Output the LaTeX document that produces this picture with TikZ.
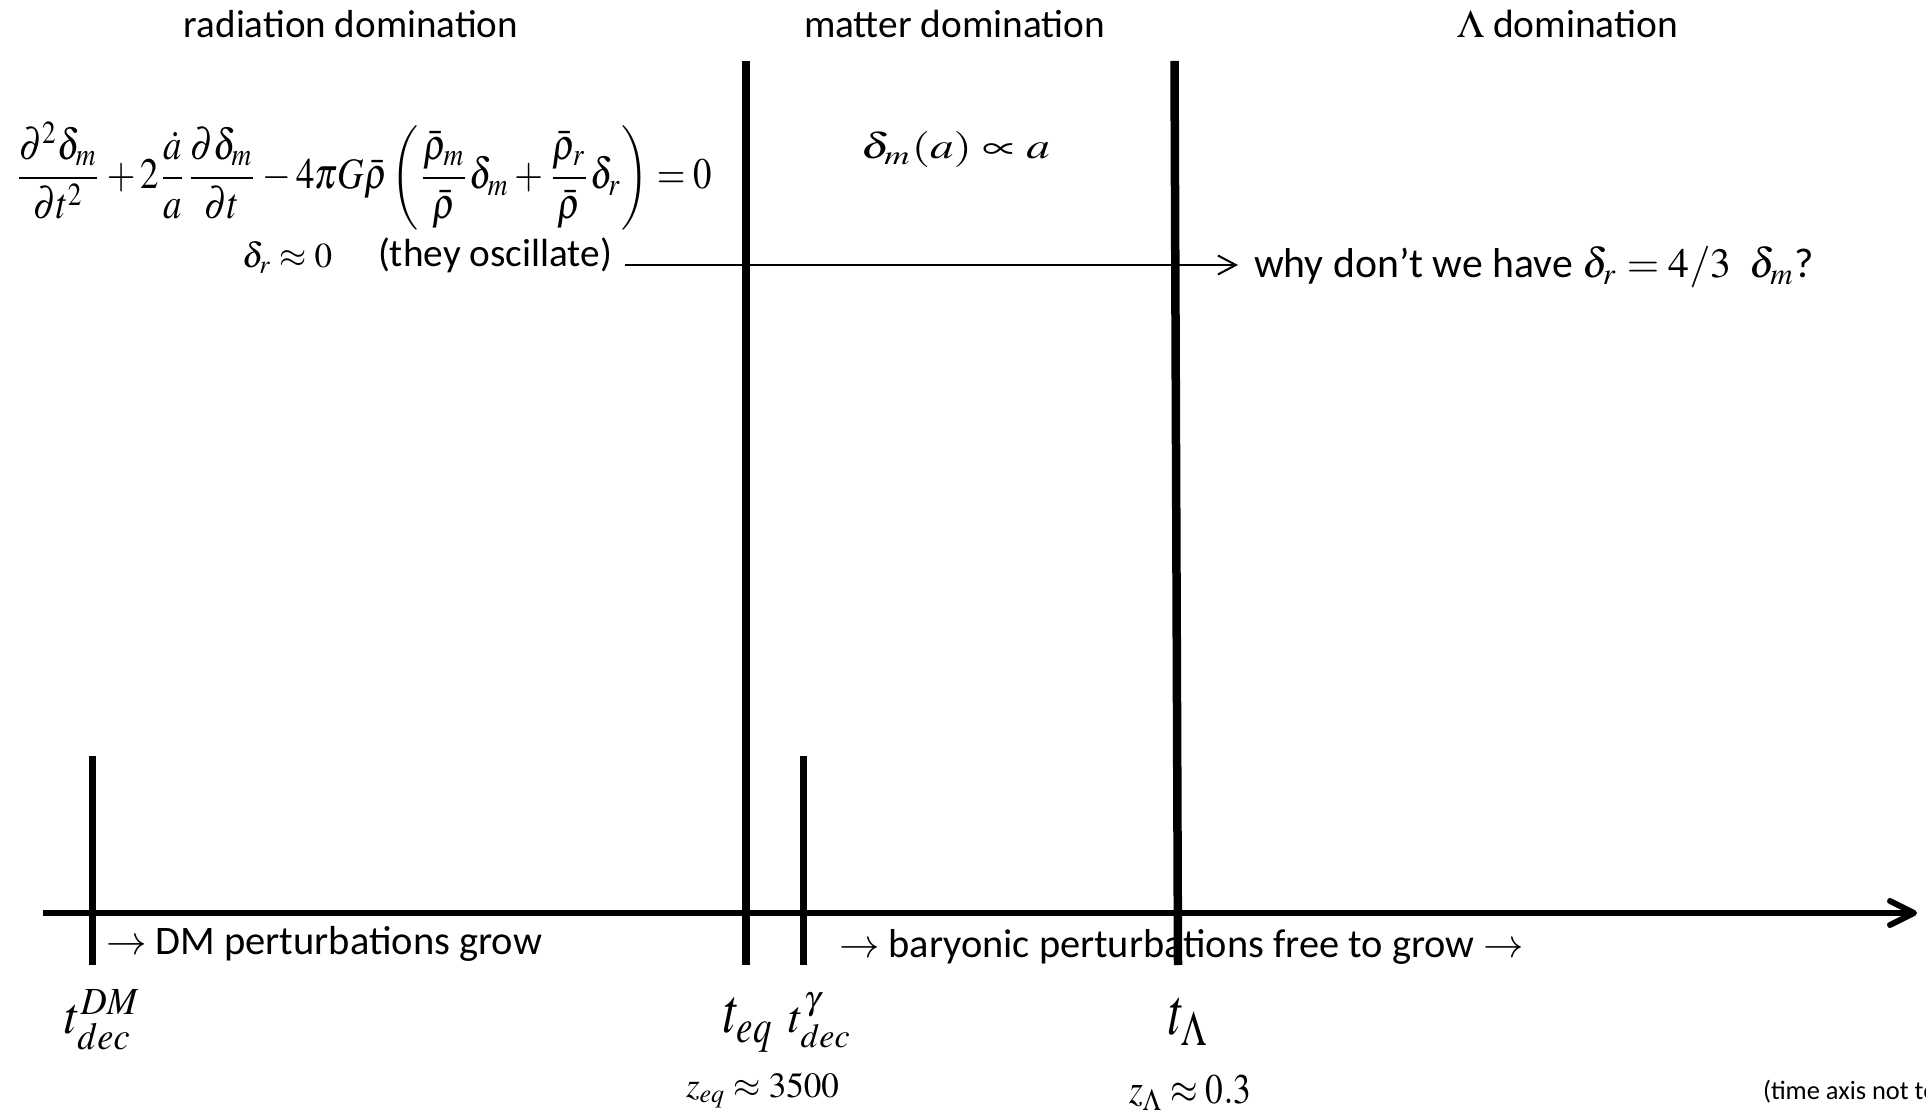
\documentclass[tikz,border=0pt]{standalone}
\usepackage{mathptmx}
\usepackage[no-math]{fontspec}
\setmainfont{Carlito}
\usepackage{graphicx}
\usetikzlibrary{arrows.meta}
\tikzset{
  lbl/.style={inner sep=0pt, outer sep=0pt},
  tallline/.style={line width=4.25pt},
  shortline/.style={line width=3.5pt},
  timeaxis/.style={line width=3pt, -{Straight Barb[length=12pt,width=12pt,round]}},
  thinarrow/.style={line width=1pt, -{Straight Barb[length=9pt,width=9.5pt]}}
}
\newcommand{\fitw}[2]{\resizebox{#1}{!}{#2}}
\newcommand{\fitwh}[3]{\resizebox*{#1}{#2}{#3}}
\begin{document}
\begin{tikzpicture}[x=0.5pt,y=-0.5pt]
\useasboundingbox (0,0) rectangle (1926,1111);
\clip (0,0) rectangle (1926,1111);

% era headings
\node[lbl,anchor=base] (rad) at (351,38) {\fitw{167pt}{radiation domination}};
\node[lbl,anchor=base] (mat) at (954.5,38) {\fitw{150.5pt}{matter domination}};
\node[lbl,anchor=base] (lam) at (1567.5,38) {\fitw{110.5pt}{$\Lambda$ domination}};

% time axis
\coordinate (axS) at (43,913);
\coordinate (axE) at (1917,913);
\draw[timeaxis] (axS) -- (axE);

% epoch markers
\coordinate (eqT) at (746,61);   \coordinate (eqB) at (746,965);
\coordinate (lamT) at (1174.5,61); \coordinate (lamB) at (1178,965);
\coordinate (dmT) at (92,756);   \coordinate (dmB) at (92,965);
\coordinate (gT) at (803,756);   \coordinate (gB) at (803,965);
\draw[tallline] (eqT) -- (eqB);
\draw[tallline] (lamT) -- (lamB);
\draw[shortline] (dmT) -- (dmB);
\draw[shortline] (gT) -- (gB);

% equation
\node[lbl] (eqn) at (363.5,176) {\fitwh{348.5pt}{54pt}{$\displaystyle
  \frac{\partial^2\delta_m}{\partial t^2}+2\frac{\dot a}{a}\frac{\partial\delta_m}{\partial t}
  -4\pi G\bar\rho\left(\frac{\bar\rho_m}{\bar\rho}\delta_m+\frac{\bar\rho_r}{\bar\rho}\delta_r\right)=0$}};

\node[lbl,anchor=base west] (dr) at (242,268) {\fitw{45pt}{$\delta_r\approx 0$}};
\node[lbl,anchor=base west] (osc) at (378,267) {\fitw{117pt}{(they oscillate)}};
\coordinate (arrS) at (625,265);
\coordinate (arrE) at (1238,265);
\draw[thinarrow] (arrS) -- (arrE);
\node[lbl,anchor=base west] (why) at (1254,278) {\fitw{280pt}{why don’t we have $\delta_r = 4/3\;\;\delta_m$?}};

\node[lbl] (grow) at (955.5,150) {\fitwh{94.5pt}{18pt}{$\delta_m(a)\propto a$}};

% axis annotations
\node[lbl,anchor=base west] (dmtxt) at (106,954) {\fitw{218pt}{$\rightarrow$ DM perturbations grow}};
\node[lbl,anchor=base west] (bartxt) at (839,957) {\fitw{342.5pt}{$\rightarrow$ baryonic perturbations free to grow $\rightarrow$}};

% epoch labels
\node[lbl] (tdm) at (103,1020) {\fitwh{38pt}{30pt}{$t_{dec}^{DM}$}};
\node[lbl] (teq) at (749,1025) {\fitwh{25pt}{27pt}{$t_{eq}$}};
\node[lbl] (tg) at (820.5,1020.5) {\fitwh{31.5pt}{27.5pt}{$t_{dec}^{\gamma}$}};
\node[lbl] (tl) at (1189,1021.5) {\fitwh{20pt}{23.5pt}{$t_{\Lambda}$}};
\node[lbl] (zeq) at (762.5,1090.5) {\fitwh{76.5pt}{17.5pt}{$z_{eq}\approx 3500$}};
\node[lbl] (zl) at (1190,1092.5) {\fitwh{61pt}{17.5pt}{$z_{\Lambda}\approx 0.3$}};

\node[lbl,anchor=base west] (note) at (1763,1099) {\fontsize{13.2pt}{15pt}\selectfont (time axis not to scale)};
\end{tikzpicture}
\end{document}
